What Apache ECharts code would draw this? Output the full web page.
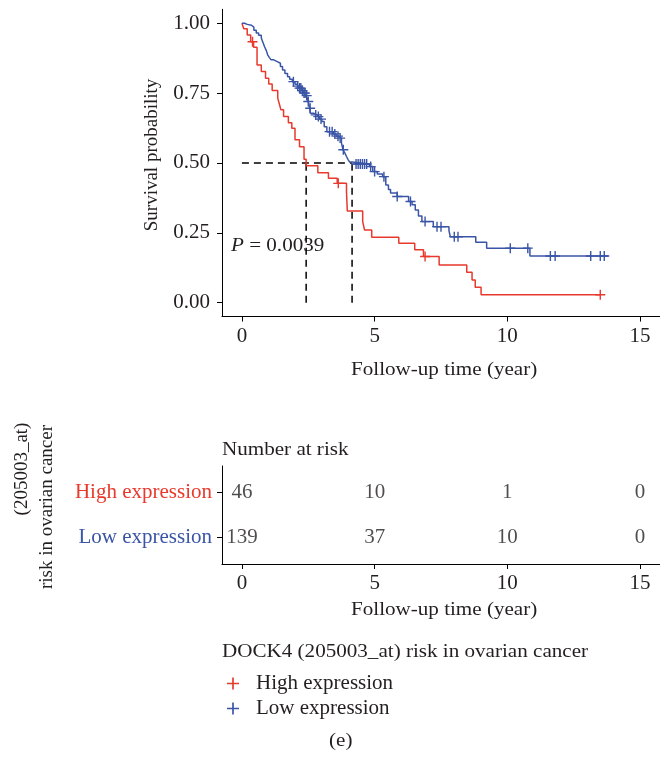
<!DOCTYPE html>
<html><head><meta charset="utf-8">
<script src="https://cdn.jsdelivr.net/npm/echarts@6/dist/echarts.min.js"></script>
<style>html,body{margin:0;padding:0;background:#fff}#c{width:660px;height:758px}</style>
</head><body><div id="c"></div>
<script>
// ---- data ----
const redTimes = [0,0.07,0.2,0.33,0.44,0.57,0.73,0.89,1.01,1.14,1.35,1.41,1.47,1.57,1.75,1.88,2.0,2.17,2.34,2.42,2.86,3.26,3.59,3.94,3.97,4.55,4.62,4.89,5.91,6.51,6.84,7.43,8.47,8.67,8.79,9.01,13.5];
const redSurv  = [1,0.98,0.958,0.934,0.914,0.851,0.827,0.803,0.783,0.759,0.732,0.711,0.69,0.666,0.644,0.624,0.583,0.558,0.513,0.49,0.465,0.445,0.427,0.397,0.328,0.29,0.26,0.234,0.213,0.189,0.165,0.135,0.109,0.081,0.055,0.028,0.028];
const redCensor = [0.4,3.63,6.9,13.5];

const blueTimes = [0,0.1,0.2,0.36,0.45,0.54,0.63,0.73,0.79,0.85,0.92,0.97,1.03,1.1,1.2,1.35,1.45,1.53,1.62,1.72,1.8,1.9,2.0,2.08,2.15,2.25,2.33,2.4,2.46,2.5,2.52,2.55,2.58,2.7,2.83,2.92,3.01,3.1,3.2,3.44,3.55,3.63,3.75,3.81,3.88,3.94,4.0,4.06,4.15,4.8,4.93,5.1,5.3,5.42,5.52,5.6,5.85,6.28,6.41,6.53,6.65,6.78,7.21,7.8,7.85,8.81,9.22,10.85,13.8];
const blueSurv  = [1,0.996,0.993,0.986,0.975,0.965,0.957,0.947,0.932,0.917,0.902,0.887,0.878,0.869,0.862,0.857,0.845,0.833,0.82,0.809,0.8,0.791,0.782,0.775,0.768,0.759,0.75,0.741,0.732,0.72,0.714,0.696,0.678,0.672,0.666,0.657,0.648,0.63,0.612,0.604,0.596,0.589,0.571,0.547,0.535,0.523,0.512,0.503,0.496,0.487,0.469,0.46,0.451,0.421,0.405,0.392,0.38,0.362,0.35,0.332,0.31,0.29,0.272,0.258,0.236,0.216,0.195,0.167,0.167];
const blueCensor = [1.94,2.1,2.17,2.22,2.28,2.34,2.38,2.44,2.5,2.57,2.78,2.88,2.98,3.3,3.4,3.5,3.62,3.7,3.82,4.3,4.38,4.46,4.54,4.62,4.7,4.85,5.0,5.35,5.85,6.35,6.9,7.35,7.5,8.0,8.14,10.11,10.77,11.62,11.8,13.14,13.5,13.65];

const medianLevel = 0.5;
const medianTimes = [2.42, 4.15];
const xTicks = [0,5,10,15];
const yTicks = [0,0.25,0.5,0.75,1];
const groups = ['High expression','Low expression'];
const riskTimes = [0,5,10,15];
const riskHigh = [46,10,1,0];
const riskLow = [139,37,10,0];
const pText = '0.0039';

// ---- styles ----
const RED = '#E8392C', BLUE = '#3A55A6', INK = '#231F20';
const FONT = 'Liberation Serif';
const FS = 21;      // horizontal labels
const GFS = 19;     // graphic text base size (stretched horizontally)
const SX = 1.11;
const PLUS = 'path://M4.3,0H5.7V4.3H10V5.7H5.7V10H4.3V5.7H0V4.3H4.3Z';

function survAt(times, surv, t){ let v = surv[0]; for(let i=0;i<times.length;i++){ if(times[i]<=t) v=surv[i]; } return v; }
const pts = (ts, ss) => ts.map((t,i)=>[t, ss[i]]);

const axisCommon = {
  axisLine:{show:true,onZero:false,lineStyle:{color:'#000',width:1}},
  axisTick:{show:true,length:5,lineStyle:{color:'#000',width:1}},
  splitLine:{show:false},
  axisLabel:{color:INK,fontFamily:FONT,fontSize:FS}
};
function hText(x,y,text,align,extra){
  return Object.assign({type:'text',x:x,y:y,scaleX:SX,originX:0,
    style:Object.assign({text:text,fontFamily:FONT,fontSize:GFS,fill:INK,align:align,verticalAlign:'middle'}, extra||{})});
}
function vText(x,y,text){
  return {type:'text',x:x,y:y,rotation:Math.PI/2,style:{text:text,fontFamily:FONT,fontSize:GFS,fill:INK,align:'center',verticalAlign:'middle'}};
}

const chart = echarts.init(document.getElementById('c'), null, {renderer:'canvas'});
const option = {
  animation:false,
  backgroundColor:'#fff',
  grid:[
    {left:222, top:9.3, width:445.5, height:307.3},
    {left:222, top:466, width:445.5, height:98}
  ],
  xAxis:[0,1].map(g => Object.assign({}, axisCommon, {gridIndex:g,type:'value',min:-0.75,max:15.75,
      axisTick:Object.assign({}, axisCommon.axisTick,{customValues:xTicks}),
      axisLabel:Object.assign({}, axisCommon.axisLabel,{customValues:xTicks,margin:9})})),
  yAxis:[
    Object.assign({}, axisCommon, {gridIndex:0,type:'value',min:-0.05,max:1.05,
      axisTick:Object.assign({}, axisCommon.axisTick,{customValues:yTicks}),
      axisLabel:Object.assign({}, axisCommon.axisLabel,{customValues:yTicks,margin:12,formatter:v=>v.toFixed(2)})}),
    Object.assign({}, axisCommon, {gridIndex:1,type:'value',min:0.4,max:2.6,
      axisTick:Object.assign({}, axisCommon.axisTick,{customValues:[1,2]}),
      axisLabel:Object.assign({}, axisCommon.axisLabel,{customValues:[1,2],margin:10,
        formatter:v=> v===2 ? '{h|'+groups[0]+'}' : '{l|'+groups[1]+'}',
        rich:{h:{color:RED,fontFamily:FONT,fontSize:FS},l:{color:BLUE,fontFamily:FONT,fontSize:FS}}})})
  ],
  legend:{
    data:groups, orient:'vertical', left:222, top:668, itemGap:4,
    itemWidth:12, itemHeight:12, icon:PLUS,
    textStyle:{fontFamily:FONT,fontSize:FS,color:INK,padding:[0,0,0,12]},
    selectedMode:false
  },
  series:[
    {name:'_m0',type:'line',xAxisIndex:0,yAxisIndex:0,data:[[0,medianLevel],[medianTimes[1],medianLevel]],showSymbol:false,silent:true,
      lineStyle:{color:'#000',width:1.5,type:[7,5]},z:1},
    {name:'_m1',type:'line',xAxisIndex:0,yAxisIndex:0,data:[[medianTimes[0],0],[medianTimes[0],medianLevel]],showSymbol:false,silent:true,
      lineStyle:{color:'#000',width:1.5,type:[7,5]},z:1},
    {name:'_m2',type:'line',xAxisIndex:0,yAxisIndex:0,data:[[medianTimes[1],0],[medianTimes[1],medianLevel]],showSymbol:false,silent:true,
      lineStyle:{color:'#000',width:1.5,type:[7,5]},z:1},
    {name:groups[0],type:'line',step:'end',xAxisIndex:0,yAxisIndex:0,data:pts(redTimes,redSurv),showSymbol:false,
      itemStyle:{color:RED},lineStyle:{color:RED,width:1.5},z:3},
    {name:groups[1],type:'line',step:'end',xAxisIndex:0,yAxisIndex:0,data:pts(blueTimes,blueSurv),showSymbol:false,
      itemStyle:{color:BLUE},lineStyle:{color:BLUE,width:1.5},z:3},
    {name:'_rc',type:'scatter',xAxisIndex:0,yAxisIndex:0,symbol:PLUS,symbolSize:10,
      data:redCensor.map(t=>[t,survAt(redTimes,redSurv,t)]),itemStyle:{color:RED,opacity:1},z:4},
    {name:'_bc',type:'scatter',xAxisIndex:0,yAxisIndex:0,symbol:PLUS,symbolSize:10,
      data:blueCensor.map(t=>[t,survAt(blueTimes,blueSurv,t)]),itemStyle:{color:BLUE,opacity:1},z:4},
    {name:'_risk',type:'scatter',xAxisIndex:1,yAxisIndex:1,symbolSize:0,
      data:riskTimes.map((t,i)=>[t,2,riskHigh[i]]).concat(riskTimes.map((t,i)=>[t,1,riskLow[i]])),
      label:{show:true,position:'inside',formatter:p=>String(p.value[2]),fontFamily:FONT,fontSize:FS,color:INK}}
  ],
  graphic:[
    vText(152,155,'Survival probability'),
    hText(445-94,370,'Follow-up time (year)','left'),
    hText(231,246,'{i|P} = '+pText,'left',{rich:{i:{fontStyle:'italic',fontFamily:FONT,fontSize:GFS,fill:INK}}}),
    hText(222,450,'Number at risk','left'),
    hText(445-94,610,'Follow-up time (year)','left'),
    vText(22,469,'(205003_at)'),
    vText(47,507,'risk in ovarian cancer'),
    hText(222,652,'DOCK4 (205003_at) risk in ovarian cancer','left'),
    hText(341-12,741,'(e)','left')
  ]
};
chart.setOption(option);
</script></body></html>
